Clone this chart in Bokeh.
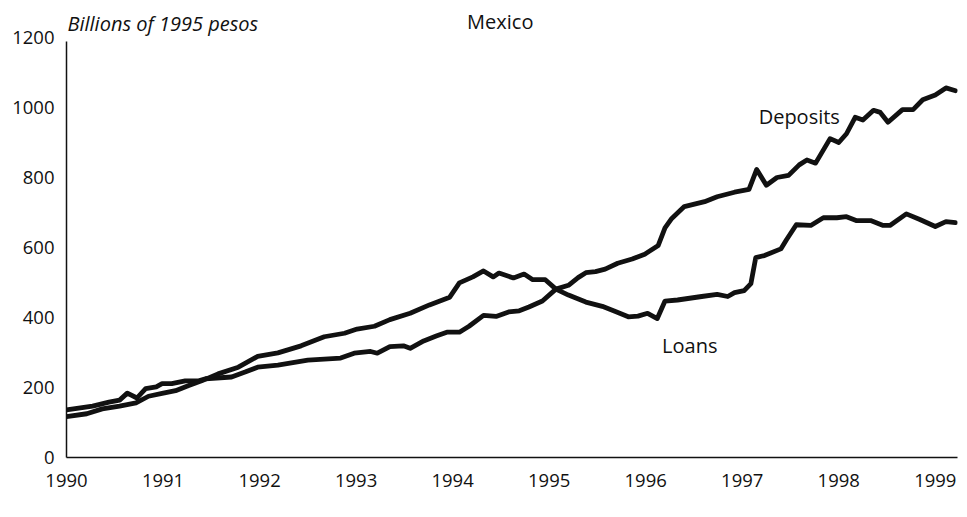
from bokeh.plotting import figure
from bokeh.models import FixedTicker, Label, Range1d
from bokeh.embed import file_html
from bokeh.resources import INLINE

# Deposits (billions of 1995 pesos), time in decimal years
dep_t = [1990.00, 1990.27, 1990.44, 1990.55, 1990.63, 1990.73, 1990.82, 1990.93, 1990.99,
         1991.09, 1991.23, 1991.37, 1991.44, 1991.71, 1991.85, 1991.98, 1992.19, 1992.50,
         1992.84, 1992.98, 1993.15, 1993.22, 1993.35, 1993.49, 1993.56, 1993.70, 1993.83,
         1993.94, 1994.07, 1994.17, 1994.32, 1994.45, 1994.58, 1994.69, 1994.79, 1994.93,
         1995.07, 1995.20, 1995.30, 1995.38, 1995.48, 1995.58, 1995.71, 1995.86, 1995.99,
         1996.13, 1996.20, 1996.27, 1996.40, 1996.61, 1996.74, 1996.92, 1997.07, 1997.15,
         1997.25, 1997.36, 1997.48, 1997.59, 1997.67, 1997.76, 1997.91, 1998.00, 1998.08,
         1998.17, 1998.25, 1998.36, 1998.43, 1998.51, 1998.66, 1998.77, 1998.87, 1999.00,
         1999.11, 1999.21]
dep_v = [136, 147, 158, 164, 184, 170, 197, 202, 211,
         211, 219, 219, 225, 230, 244, 258, 264, 278,
         284, 298, 303, 298, 317, 319, 312, 333, 347,
         358, 358, 375, 406, 403, 416, 419, 430, 447,
         481, 492, 514, 528, 531, 538, 555, 567, 581,
         606, 656, 683, 717, 731, 745, 758, 766, 823,
         778, 800, 806, 836, 850, 841, 911, 900, 925,
         972, 964, 992, 986, 958, 994, 994, 1022, 1036,
         1056, 1048]

# Loans (billions of 1995 pesos)
loan_t = [1990.00, 1990.21, 1990.37, 1990.55, 1990.72, 1990.85, 1990.99, 1991.13, 1991.26,
          1991.40, 1991.57, 1991.78, 1991.98, 1992.19, 1992.43, 1992.67, 1992.88, 1993.01,
          1993.19, 1993.35, 1993.56, 1993.76, 1993.97, 1994.07, 1994.21, 1994.32, 1994.42,
          1994.48, 1994.63, 1994.74, 1994.83, 1994.96, 1995.07, 1995.20, 1995.38, 1995.55,
          1995.68, 1995.82, 1995.92, 1996.02, 1996.12, 1996.20, 1996.33, 1996.58, 1996.74,
          1996.85, 1996.92, 1997.02, 1997.09, 1997.14, 1997.23, 1997.40, 1997.46, 1997.56,
          1997.71, 1997.84, 1997.98, 1998.08, 1998.18, 1998.33, 1998.46, 1998.53, 1998.70,
          1998.84, 1999.00, 1999.11, 1999.21]
loan_v = [117, 125, 139, 147, 156, 175, 183, 191, 205,
          219, 239, 258, 289, 299, 319, 345, 355, 367,
          375, 394, 412, 436, 458, 499, 516, 533, 516,
          527, 513, 524, 508, 508, 481, 464, 444, 432,
          418, 402, 404, 412, 397, 447, 450, 460, 466,
          460, 471, 477, 497, 571, 577, 596, 623, 665,
          663, 685, 685, 688, 677, 677, 663, 663, 696,
          680, 660, 674, 671]

x_ticks = [1990, 1991, 1992, 1993, 1994, 1995, 1996, 1997, 1998, 1999]
y_ticks = [0, 200, 400, 600, 800, 1000, 1200]

FONT = "Open Sans"
INK = "#111111"

p = figure(width=958, height=501, output_backend="svg", toolbar_location=None,
           x_range=Range1d(1990, 1999.23), y_range=Range1d(0, 1300),
           min_border_left=66, min_border_right=1, min_border_top=2, min_border_bottom=44)
p.outline_line_color = None
p.xgrid.visible = False
p.ygrid.visible = False
p.background_fill_color = "white"
p.border_fill_color = "white"

p.line(dep_t, dep_v, line_width=4.8, line_color=INK, line_join="round", line_cap="round")
p.line(loan_t, loan_v, line_width=4.8, line_color=INK, line_join="round", line_cap="round")

for ax in (p.xaxis[0], p.yaxis[0]):
    ax.axis_line_color = INK
    ax.axis_line_width = 1.5
    ax.major_tick_line_color = None
    ax.minor_tick_line_color = None
    ax.major_tick_out = 0
    ax.major_tick_in = 0
    ax.major_label_text_font = FONT
    ax.major_label_text_font_size = "18.5px"
    ax.major_label_text_color = INK

p.xaxis.ticker = FixedTicker(ticks=x_ticks)
p.yaxis.ticker = FixedTicker(ticks=y_ticks)
p.yaxis.bounds = (0, 1190)
p.xaxis.major_label_standoff = 16
p.yaxis.major_label_standoff = 12

p.add_layout(Label(x=1990.01, y=1241, text="Billions of 1995 pesos", text_font=FONT,
                   text_font_size="20px", text_font_style="italic", text_color=INK,
                   text_baseline="alphabetic"))
p.add_layout(Label(x=1994.15, y=1246, text="Mexico", text_font=FONT,
                   text_font_size="20px", text_color=INK, text_baseline="alphabetic"))
p.add_layout(Label(x=1997.17, y=973, text="Deposits", text_font=FONT,
                   text_font_size="20px", text_color=INK, text_baseline="alphabetic"))
p.add_layout(Label(x=1996.17, y=320, text="Loans", text_font=FONT,
                   text_font_size="20px", text_color=INK, text_baseline="alphabetic"))

open("out.html", "w").write(file_html(p, INLINE))
